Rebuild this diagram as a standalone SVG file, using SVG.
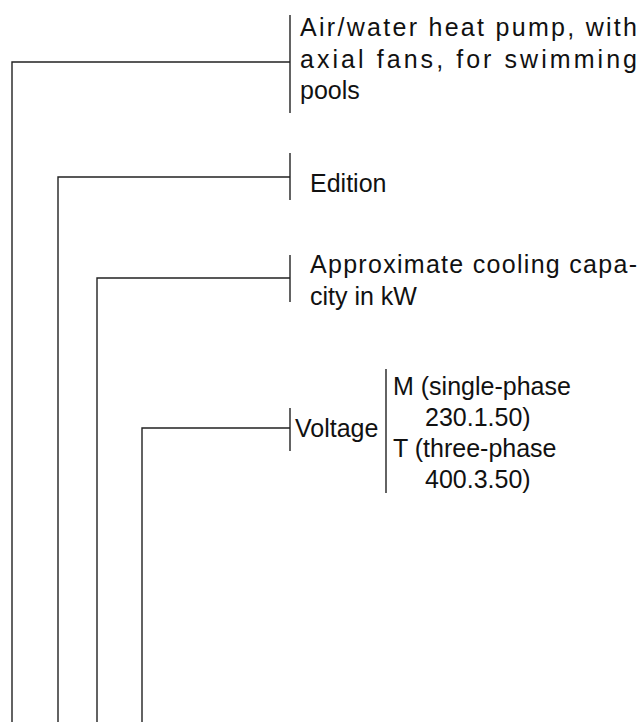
<svg xmlns="http://www.w3.org/2000/svg" width="640" height="722" viewBox="0 0 640 722">
<style>
.c{fill:none;stroke:#222;stroke-width:1.4}
.t{font-family:"Liberation Sans",Arial,sans-serif;font-size:25px;fill:#111}
</style>
<rect width="640" height="722" fill="#fff"/>
<g id="connectors">
<path class="c" d="M12,722V62H290"/>
<path class="c" d="M58,722V177H290"/>
<path class="c" d="M97,722V278H290"/>
<path class="c" d="M142,722V428H290"/>
</g>
<g id="node-type">
<line class="c" x1="290" y1="15" x2="290" y2="113"/>
<text class="t" x="300" y="36" textLength="337" lengthAdjust="spacing">Air/water heat pump, with</text>
<text class="t" x="300" y="68" textLength="337" lengthAdjust="spacing">axial fans, for swimming</text>
<text class="t" x="300" y="99">pools</text>
</g>
<g id="node-edition">
<line class="c" x1="290" y1="153" x2="290" y2="200"/>
<text class="t" x="310" y="192">Edition</text>
</g>
<g id="node-capacity">
<line class="c" x1="290" y1="255" x2="290" y2="302"/>
<text class="t" x="310" y="273" textLength="327" lengthAdjust="spacing">Approximate cooling capa-</text>
<text class="t" x="310" y="305">city in kW</text>
</g>
<g id="node-voltage">
<line class="c" x1="290" y1="408" x2="290" y2="451"/>
<text class="t" x="295" y="437">Voltage</text>
<line class="c" x1="386" y1="369" x2="386" y2="493"/>
<text class="t" x="393" y="395">M (single-phase</text>
<text class="t" x="425" y="426">230.1.50)</text>
<text class="t" x="393" y="457">T (three-phase</text>
<text class="t" x="425" y="488">400.3.50)</text>
</g>
</svg>
